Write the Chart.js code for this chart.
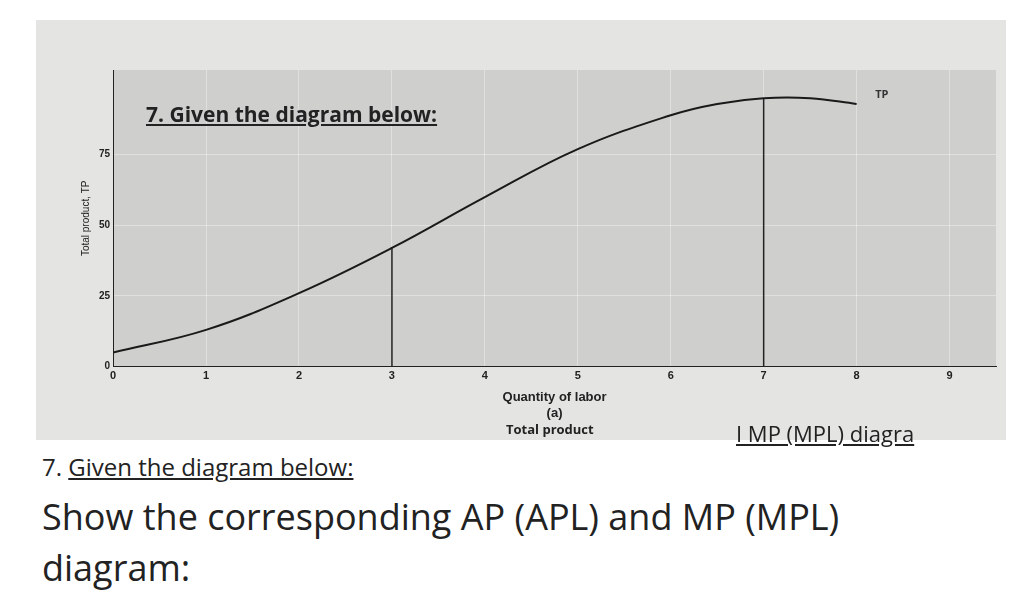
<!DOCTYPE html>
<html><head><meta charset="utf-8">
<script src="https://cdn.jsdelivr.net/npm/chart.js@4"></script>
<style>
body{margin:0;width:1024px;height:600px;background:#fff;font-family:"Open Sans",sans-serif;overflow:hidden}
#photo{position:absolute;left:36px;top:20px;width:970px;height:420px;background:#e4e4e2}
#wrap{position:absolute;left:40px;top:40px;width:940px;height:365px}
.t{position:absolute;color:#222;z-index:2}
</style></head><body>
<div id="photo">
  <div id="wrap"><canvas id="c"></canvas></div>
  <div class="t" style="left:110px;top:80px;font-size:21px;font-weight:bold;text-decoration:underline">7. Given the diagram below:</div>
  <div class="t" style="left:470px;top:400px;font-size:13px;font-weight:bold">Total product</div>
  <div class="t" style="left:700px;top:398px;font-size:22px;text-decoration:underline">I MP (MPL) diagra</div>
</div>
<div class="t" style="left:42px;top:450px;font-size:24px">7. <u>Given the diagram below:</u></div>
<div class="t" style="left:42px;top:492px;font-size:36px">Show the corresponding AP (APL) and MP (MPL)</div>
<div class="t" style="left:42px;top:543px;font-size:36px">diagram:</div>
<script>
// TP curve
const laborQty=[0,1,2,3,4,5,6,6.5,7,7.5,8];
const tpValues=[5,13,26,42,60,77,89,93,95,95,93];
const xTicks=[0,1,2,3,4,5,6,7,8,9];
const yTicks=[0,25,50,75];
const markLines=[3,7];

const bgPlugin={id:'bg',beforeDraw(ch){const a=ch.chartArea,c=ch.ctx;c.save();c.fillStyle='#cfcfcd';c.fillRect(a.left,a.top,a.right-a.left,a.bottom-a.top);c.restore();}};
const labelPlugin={id:'lbl',afterDraw(ch){const c=ch.ctx,x=ch.scales.x,y=ch.scales.y;c.save();c.fillStyle='#333';c.font='bold 11px "Open Sans"';
 c.fillText('TP',x.getPixelForValue(8.2),y.getPixelForValue(95));c.restore();}};

const datasets=[{data:laborQty.map((q,i)=>({x:q,y:tpValues[i]})),borderColor:'#1a1a1a',borderWidth:2,pointRadius:0,tension:0.4}];
markLines.forEach(m=>datasets.push({data:[{x:m,y:0},{x:m,y:tpValues[laborQty.indexOf(m)]}],borderColor:'#222',borderWidth:1.5,pointRadius:0}));

new Chart(document.getElementById('c'),{type:'line',data:{datasets},plugins:[bgPlugin,labelPlugin],
 options:{responsive:true,maintainAspectRatio:false,animation:false,
  layout:{padding:{right:20,top:10}},
  plugins:{legend:{display:false},tooltip:{enabled:false}},
  scales:{
   x:{type:'linear',min:0,max:9.5,afterBuildTicks:s=>{s.ticks=xTicks.map(v=>({value:v}))},
      ticks:{color:'#222',font:{size:11,weight:'bold'}},grid:{color:'rgba(255,255,255,0.35)',drawTicks:false},border:{color:'#222'},
      title:{display:true,text:['Quantity of labor','(a)'],color:'#222',font:{size:13,weight:'bold'}}},
   y:{min:0,max:105,afterBuildTicks:s=>{s.ticks=yTicks.map(v=>({value:v}))},
      ticks:{color:'#222',font:{size:10,weight:'bold'}},grid:{color:'rgba(255,255,255,0.35)',drawTicks:false},border:{color:'#222'},
      title:{display:true,text:'Total product, TP',color:'#222',font:{size:10}}}
  }}});
</script>
</body></html>
